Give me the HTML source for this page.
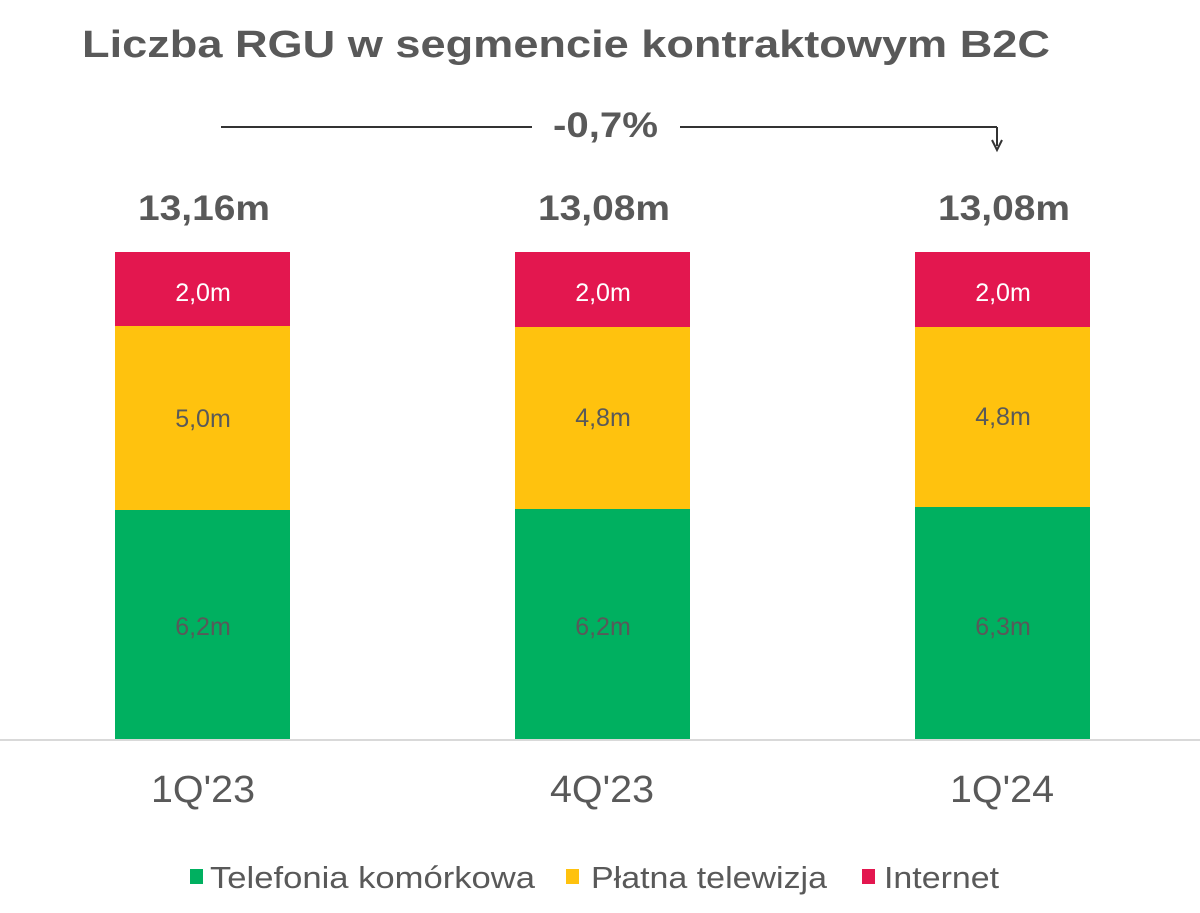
<!DOCTYPE html>
<html><head><meta charset="utf-8"><style>
body{margin:0;background:#fff;}
svg{display:block;font-family:"Liberation Sans",Arial,sans-serif;}
</style></head><body>
<svg width="1200" height="913" viewBox="0 0 1200 913" xmlns="http://www.w3.org/2000/svg">
<text x="82" y="57" font-size="38" font-weight="bold" fill="#595959" textLength="968" lengthAdjust="spacingAndGlyphs">Liczba RGU w segmencie kontraktowym B2C</text>
<line x1="221" y1="127" x2="532" y2="127" stroke="#333" stroke-width="2"/>
<line x1="680" y1="127" x2="997" y2="127" stroke="#333" stroke-width="2"/>
<line x1="997" y1="127" x2="997" y2="146" stroke="#333" stroke-width="2"/>
<path d="M992 140 L997 150 L1002 140" fill="none" stroke="#333" stroke-width="2"/>
<text x="553" y="137" font-size="35" font-weight="bold" fill="#595959" textLength="105" lengthAdjust="spacingAndGlyphs">-0,7%</text>
<g font-size="35" font-weight="bold" fill="#595959">
<text x="138" y="220" textLength="132" lengthAdjust="spacingAndGlyphs">13,16m</text>
<text x="538" y="220" textLength="132" lengthAdjust="spacingAndGlyphs">13,08m</text>
<text x="938" y="220" textLength="132" lengthAdjust="spacingAndGlyphs">13,08m</text>
</g>
<rect x="115" y="252" width="175" height="74" fill="#E3174F"/>
<rect x="115" y="326" width="175" height="184" fill="#FFC20E"/>
<rect x="115" y="510" width="175" height="230" fill="#00B060"/>
<rect x="515" y="252" width="175" height="75" fill="#E3174F"/>
<rect x="515" y="327" width="175" height="182" fill="#FFC20E"/>
<rect x="515" y="509" width="175" height="231" fill="#00B060"/>
<rect x="915" y="252" width="175" height="75" fill="#E3174F"/>
<rect x="915" y="327" width="175" height="180" fill="#FFC20E"/>
<rect x="915" y="507" width="175" height="233" fill="#00B060"/>
<line x1="0" y1="740" x2="1200" y2="740" stroke="#d9d9d9" stroke-width="2"/>
<g font-size="25" text-anchor="middle">
<text x="203" y="301" fill="#fff">2,0m</text>
<text x="603" y="301" fill="#fff">2,0m</text>
<text x="1003" y="301" fill="#fff">2,0m</text>
<text x="203" y="427" fill="#595959">5,0m</text>
<text x="603" y="426" fill="#595959">4,8m</text>
<text x="1003" y="425" fill="#595959">4,8m</text>
<text x="203" y="635" fill="#595959">6,2m</text>
<text x="603" y="635" fill="#595959">6,2m</text>
<text x="1003" y="635" fill="#595959">6,3m</text>
</g>
<g font-size="38" fill="#595959">
<text x="151" y="802" textLength="104" lengthAdjust="spacingAndGlyphs">1Q'23</text>
<text x="550" y="802" textLength="104" lengthAdjust="spacingAndGlyphs">4Q'23</text>
<text x="950" y="802" textLength="104" lengthAdjust="spacingAndGlyphs">1Q'24</text>
</g>
<g font-size="31" fill="#595959">
<rect x="190" y="869" width="13" height="15" fill="#00B060"/>
<text x="210" y="888" textLength="325" lengthAdjust="spacingAndGlyphs">Telefonia komórkowa</text>
<rect x="566" y="869" width="13" height="15" fill="#FFC20E"/>
<text x="591" y="888" textLength="236" lengthAdjust="spacingAndGlyphs">Płatna telewizja</text>
<rect x="862" y="869" width="13" height="15" fill="#E3174F"/>
<text x="884" y="888" textLength="115" lengthAdjust="spacingAndGlyphs">Internet</text>
</g>
</svg>
</body></html>
